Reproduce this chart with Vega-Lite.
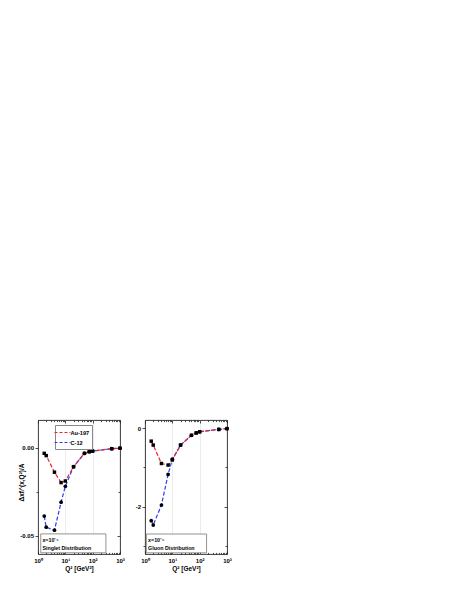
{
  "$schema": "https://vega.github.io/schema/vega-lite/v6.json",
  "background": "white",
  "padding": {"left": 17, "top": 419, "right": 5, "bottom": 5},
  "config": {
    "font": "Liberation Sans",
    "view": {"stroke": "#222222", "strokeWidth": 0.9},
    "axis": {
      "domain": false,
      "labelFont": "Liberation Sans",
      "labelFontWeight": "bold",
      "labelFontSize": 6,
      "labelColor": "black",
      "titleFont": "Liberation Sans",
      "titleFontWeight": "bold",
      "titleFontSize": 6.5,
      "titleColor": "black",
      "tickColor": "#222222",
      "tickWidth": 0.8,
      "gridColor": "#e4e4e4",
      "gridWidth": 0.7
    },
    "legend": {
      "labelFont": "Liberation Sans",
      "labelFontWeight": "bold",
      "labelFontSize": 5.6,
      "labelColor": "black"
    }
  },
  "datasets": {
    "singlet": [
      {"nucleus": "C-12", "q2": 1.69, "val": -0.0388},
      {"nucleus": "C-12", "q2": 2, "val": -0.0451},
      {"nucleus": "C-12", "q2": 4, "val": -0.0468},
      {"nucleus": "C-12", "q2": 7, "val": -0.0309},
      {"nucleus": "C-12", "q2": 10, "val": -0.0219},
      {"nucleus": "C-12", "q2": 20, "val": -0.0108},
      {"nucleus": "C-12", "q2": 50, "val": -0.0032},
      {"nucleus": "C-12", "q2": 75, "val": -0.0023},
      {"nucleus": "C-12", "q2": 100, "val": -0.0019},
      {"nucleus": "C-12", "q2": 500, "val": -0.0006},
      {"nucleus": "C-12", "q2": 1000, "val": -0.0003},
      {"nucleus": "Au-197", "q2": 1.69, "val": -0.0032},
      {"nucleus": "Au-197", "q2": 2, "val": -0.0045},
      {"nucleus": "Au-197", "q2": 4, "val": -0.0139},
      {"nucleus": "Au-197", "q2": 7, "val": -0.0198},
      {"nucleus": "Au-197", "q2": 10, "val": -0.0189},
      {"nucleus": "Au-197", "q2": 20, "val": -0.0108},
      {"nucleus": "Au-197", "q2": 50, "val": -0.0032},
      {"nucleus": "Au-197", "q2": 75, "val": -0.0023},
      {"nucleus": "Au-197", "q2": 100, "val": -0.0019},
      {"nucleus": "Au-197", "q2": 500, "val": -0.0006},
      {"nucleus": "Au-197", "q2": 1000, "val": -0.0003}
    ],
    "gluon": [
      {"nucleus": "C-12", "q2": 1.69, "val": -2.36},
      {"nucleus": "C-12", "q2": 2, "val": -2.47},
      {"nucleus": "C-12", "q2": 4, "val": -1.96},
      {"nucleus": "C-12", "q2": 7, "val": -1.18},
      {"nucleus": "C-12", "q2": 10, "val": -0.79},
      {"nucleus": "C-12", "q2": 20, "val": -0.43},
      {"nucleus": "C-12", "q2": 50, "val": -0.18},
      {"nucleus": "C-12", "q2": 75, "val": -0.12},
      {"nucleus": "C-12", "q2": 100, "val": -0.09},
      {"nucleus": "C-12", "q2": 500, "val": -0.03},
      {"nucleus": "C-12", "q2": 1000, "val": -0.01},
      {"nucleus": "Au-197", "q2": 1.69, "val": -0.33},
      {"nucleus": "Au-197", "q2": 2, "val": -0.43},
      {"nucleus": "Au-197", "q2": 4, "val": -0.90},
      {"nucleus": "Au-197", "q2": 7, "val": -0.94},
      {"nucleus": "Au-197", "q2": 10, "val": -0.81},
      {"nucleus": "Au-197", "q2": 20, "val": -0.43},
      {"nucleus": "Au-197", "q2": 50, "val": -0.18},
      {"nucleus": "Au-197", "q2": 75, "val": -0.12},
      {"nucleus": "Au-197", "q2": 100, "val": -0.09},
      {"nucleus": "Au-197", "q2": 500, "val": -0.03},
      {"nucleus": "Au-197", "q2": 1000, "val": -0.01}
    ]
  },
  "spacing": 9,
  "hconcat": [
    {
      "width": 82,
      "height": 134,
      "data": {"name": "singlet"},
      "layer": [
        {
          "transform": [{"filter": "datum.nucleus == 'C-12'"}],
          "mark": {"type": "line", "strokeDash": [4, 2], "strokeWidth": 1.2},
          "encoding": {
            "x": {"field": "q2", "type": "quantitative", "scale": {"type": "log", "domain": [1, 1000], "nice": false},
              "axis": {"orient": "bottom", "title": "Q² [GeV²]", "values": [1,2,3,4,5,6,7,8,9,10,20,30,40,50,60,70,80,90,100,200,300,400,500,600,700,800,900,1000],
                "labelExpr": "datum.value == 1 ? '10⁰' : datum.value == 10 ? '10¹' : datum.value == 100 ? '10²' : datum.value == 1000 ? '10³' : ''",
                "tickSize": {"condition": {"test": "indexof([1,10,100,1000], datum.value) >= 0", "value": -3}, "value": -1.6},
                "labelPadding": 6, "labelFlush": false, "labelOverlap": false, "titlePadding": 1,
                "grid": true, "gridOpacity": {"condition": {"test": "indexof([10,100], datum.value) >= 0", "value": 1}, "value": 0}}},
            "y": {"field": "val", "type": "quantitative", "scale": {"domain": [-0.0603, 0.0157], "nice": false, "zero": false},
              "axis": {"orient": "left", "title": "Δxfᵢᴬ(x,Q²)/A", "values": [0, -0.025, -0.05],
                "labelExpr": "datum.value == 0 ? '0.00' : datum.value == -0.05 ? '-0.05' : ''",
                "tickSize": {"condition": {"test": "datum.value == 0 || datum.value == -0.05", "value": 3}, "value": 2},
                "labelPadding": 1.5, "titleX": -17, "titleY": 62, "titleBaseline": "middle", "grid": false}},
            "color": {"field": "nucleus", "type": "nominal", "scale": {"domain": ["Au-197", "C-12"], "range": ["#e8262b", "#2b3cf5"]},
              "legend": {"orient": "none", "legendX": 17, "legendY": 5, "title": null, "symbolType": "M-2,0H2", "symbolSize": 64,
                "symbolDash": [3, 2], "symbolStrokeWidth": 1.2, "strokeColor": "#888888", "padding": 2.5, "rowPadding": 1, "labelOffset": 3, "fillColor": "white"}}
          }
        },
        {
          "transform": [{"filter": "datum.nucleus == 'Au-197'"}],
          "mark": {"type": "line", "strokeDash": [4, 2], "strokeWidth": 1.2},
          "encoding": {
            "x": {"field": "q2", "type": "quantitative", "scale": {"type": "log", "domain": [1, 1000], "nice": false},
              "axis": {"orient": "top", "title": null, "labels": false, "values": [1,2,3,4,5,6,7,8,9,10,20,30,40,50,60,70,80,90,100,200,300,400,500,600,700,800,900,1000],
                "tickSize": {"condition": {"test": "indexof([1,10,100,1000], datum.value) >= 0", "value": -3}, "value": -1.6}, "grid": false}},
            "y": {"field": "val", "type": "quantitative", "scale": {"domain": [-0.0603, 0.0157], "nice": false, "zero": false},
              "axis": {"orient": "right", "title": null, "labels": false, "values": [0, -0.025, -0.05],
                "tickSize": {"condition": {"test": "datum.value == 0 || datum.value == -0.05", "value": -3}, "value": -2}, "grid": false}},
            "color": {"field": "nucleus", "type": "nominal", "scale": {"domain": ["Au-197", "C-12"], "range": ["#e8262b", "#2b3cf5"]}}
          }
        },
        {
          "transform": [{"filter": "datum.nucleus == 'C-12'"}],
          "mark": {"type": "point", "shape": "circle", "filled": true, "color": "black", "size": 14, "opacity": 1},
          "encoding": {
            "x": {"field": "q2", "type": "quantitative", "axis": null},
            "y": {"field": "val", "type": "quantitative", "axis": null}
          }
        },
        {
          "transform": [{"filter": "datum.nucleus == 'Au-197'"}],
          "mark": {"type": "point", "shape": "square", "filled": true, "color": "black", "size": 12, "opacity": 1},
          "encoding": {
            "x": {"field": "q2", "type": "quantitative", "axis": null},
            "y": {"field": "val", "type": "quantitative", "axis": null}
          }
        },
        {
          "data": {"values": [{}]},
          "mark": {"type": "rect", "fill": "white", "stroke": "#777777", "strokeWidth": 0.8},
          "encoding": {
            "x": {"datum": 1.26, "type": "quantitative", "axis": null},
            "x2": {"datum": 305},
            "y": {"datum": -0.0489, "type": "quantitative", "axis": null},
            "y2": {"datum": -0.0596}
          }
        },
        {
          "data": {"values": [{}]},
          "mark": {"type": "text", "align": "left", "baseline": "middle", "fontWeight": "bold", "fontSize": 5.3, "font": "Liberation Sans", "color": "black", "text": "x=10⁻⁵"},
          "encoding": {
            "x": {"datum": 1.45, "type": "quantitative", "axis": null},
            "y": {"datum": -0.0522, "type": "quantitative", "axis": null}
          }
        },
        {
          "data": {"values": [{}]},
          "mark": {"type": "text", "align": "left", "baseline": "middle", "fontWeight": "bold", "fontSize": 5.3, "font": "Liberation Sans", "color": "black", "text": "Singlet Distribution"},
          "encoding": {
            "x": {"datum": 1.45, "type": "quantitative", "axis": null},
            "y": {"datum": -0.0568, "type": "quantitative", "axis": null}
          }
        }
      ]
    },
    {
      "width": 82,
      "height": 134,
      "data": {"name": "gluon"},
      "layer": [
        {
          "transform": [{"filter": "datum.nucleus == 'C-12'"}],
          "mark": {"type": "line", "strokeDash": [4, 2], "strokeWidth": 1.2},
          "encoding": {
            "x": {"field": "q2", "type": "quantitative", "scale": {"type": "log", "domain": [1, 1000], "nice": false},
              "axis": {"orient": "bottom", "title": "Q² [GeV²]", "values": [1,2,3,4,5,6,7,8,9,10,20,30,40,50,60,70,80,90,100,200,300,400,500,600,700,800,900,1000],
                "labelExpr": "datum.value == 1 ? '10⁰' : datum.value == 10 ? '10¹' : datum.value == 100 ? '10²' : datum.value == 1000 ? '10³' : ''",
                "tickSize": {"condition": {"test": "indexof([1,10,100,1000], datum.value) >= 0", "value": -3}, "value": -1.6},
                "labelPadding": 6, "labelFlush": false, "labelOverlap": false, "titlePadding": 1,
                "grid": true, "gridOpacity": {"condition": {"test": "indexof([10,100], datum.value) >= 0", "value": 1}, "value": 0}}},
            "y": {"field": "val", "type": "quantitative", "scale": {"domain": [-3.21, 0.21], "nice": false, "zero": false},
              "axis": {"orient": "left", "title": null, "values": [0, -1, -2, -3],
                "labelExpr": "datum.value == 0 ? '0' : datum.value == -2 ? '-2' : ''",
                "tickSize": {"condition": {"test": "datum.value == 0 || datum.value == -2", "value": 3}, "value": 2},
                "labelPadding": 1.5, "grid": false}},
            "color": {"field": "nucleus", "type": "nominal", "scale": {"domain": ["Au-197", "C-12"], "range": ["#e8262b", "#2b3cf5"]}, "legend": null}
          }
        },
        {
          "transform": [{"filter": "datum.nucleus == 'Au-197'"}],
          "mark": {"type": "line", "strokeDash": [4, 2], "strokeWidth": 1.2},
          "encoding": {
            "x": {"field": "q2", "type": "quantitative", "scale": {"type": "log", "domain": [1, 1000], "nice": false},
              "axis": {"orient": "top", "title": null, "labels": false, "values": [1,2,3,4,5,6,7,8,9,10,20,30,40,50,60,70,80,90,100,200,300,400,500,600,700,800,900,1000],
                "tickSize": {"condition": {"test": "indexof([1,10,100,1000], datum.value) >= 0", "value": -3}, "value": -1.6}, "grid": false}},
            "y": {"field": "val", "type": "quantitative", "scale": {"domain": [-3.21, 0.21], "nice": false, "zero": false},
              "axis": {"orient": "right", "title": null, "labels": false, "values": [0, -1, -2, -3],
                "tickSize": {"condition": {"test": "datum.value == 0 || datum.value == -2", "value": -3}, "value": -2}, "grid": false}},
            "color": {"field": "nucleus", "type": "nominal", "scale": {"domain": ["Au-197", "C-12"], "range": ["#e8262b", "#2b3cf5"]}, "legend": null}
          }
        },
        {
          "transform": [{"filter": "datum.nucleus == 'C-12'"}],
          "mark": {"type": "point", "shape": "circle", "filled": true, "color": "black", "size": 14, "opacity": 1},
          "encoding": {
            "x": {"field": "q2", "type": "quantitative", "axis": null},
            "y": {"field": "val", "type": "quantitative", "axis": null}
          }
        },
        {
          "transform": [{"filter": "datum.nucleus == 'Au-197'"}],
          "mark": {"type": "point", "shape": "square", "filled": true, "color": "black", "size": 12, "opacity": 1},
          "encoding": {
            "x": {"field": "q2", "type": "quantitative", "axis": null},
            "y": {"field": "val", "type": "quantitative", "axis": null}
          }
        },
        {
          "data": {"values": [{}]},
          "mark": {"type": "rect", "fill": "white", "stroke": "#777777", "strokeWidth": 0.8},
          "encoding": {
            "x": {"datum": 1.12, "type": "quantitative", "axis": null},
            "x2": {"datum": 179},
            "y": {"datum": -2.70, "type": "quantitative", "axis": null},
            "y2": {"datum": -3.18}
          }
        },
        {
          "data": {"values": [{}]},
          "mark": {"type": "text", "align": "left", "baseline": "middle", "fontWeight": "bold", "fontSize": 5.3, "font": "Liberation Sans", "color": "black", "text": "x=10⁻⁵"},
          "encoding": {
            "x": {"datum": 1.3, "type": "quantitative", "axis": null},
            "y": {"datum": -2.84, "type": "quantitative", "axis": null}
          }
        },
        {
          "data": {"values": [{}]},
          "mark": {"type": "text", "align": "left", "baseline": "middle", "fontWeight": "bold", "fontSize": 5.3, "font": "Liberation Sans", "color": "black", "text": "Gluon Distribution"},
          "encoding": {
            "x": {"datum": 1.3, "type": "quantitative", "axis": null},
            "y": {"datum": -3.05, "type": "quantitative", "axis": null}
          }
        }
      ]
    }
  ]
}
